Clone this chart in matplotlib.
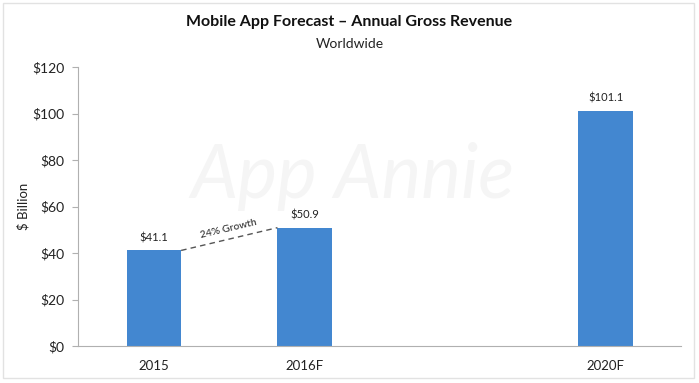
import numpy as np
import matplotlib
matplotlib.use("Agg")
import matplotlib.pyplot as plt
from matplotlib.patches import Rectangle

# ---- data ----
categories = ["2015", "2016F", "2020F"]
revenue = [41.1, 50.9, 101.1]          # $ billion
value_labels = ["$41.1", "$50.9", "$101.1"]
growth_label = "24% Growth"
yticks = [0, 20, 40, 60, 80, 100, 120]

# layout: gap between 2016F and 2020F
xpos = [0, 1, 3]
BAR_W = 0.36
BLUE = "#4387D0"
AXIS = "#b0b0b0"
TXT = "#222222"

plt.rcParams["font.family"] = ["Lato", "DejaVu Sans"]

fig = plt.figure(figsize=(6.99, 3.83), dpi=100)
fig.patches.append(Rectangle((0.005, 0.013), 0.988, 0.979, transform=fig.transFigure,
                             fill=False, edgecolor="#e2e2e2", lw=1))

ax = fig.add_axes([0.1116, 0.0966, 0.8624, 0.7284])
ax.set_xlim(-0.505, 3.5)
ax.set_ylim(0, 120)
ax.bar(xpos, revenue, width=BAR_W, color=BLUE, zorder=2)

for x, v, lab in zip(xpos, revenue, value_labels):
    ax.text(x, v + 3, lab, ha="center", va="bottom", fontsize=8, color=TXT)

# growth connector between first two bars
x0, x1 = xpos[0] + BAR_W / 2, xpos[1] - BAR_W / 2
y0, y1 = revenue[0], revenue[1]
ax.plot([x0, x1], [y0, y1], ls=(0, (4, 3)), color="#555555", lw=1, zorder=3)
p0 = ax.transData.transform((x0, y0))
p1 = ax.transData.transform((x1, y1))
ang = np.degrees(np.arctan2(p1[1] - p0[1], p1[0] - p0[0]))
ax.text((x0 + x1) / 2, (y0 + y1) / 2 + 2.5, growth_label, rotation=ang,
        rotation_mode="anchor", ha="center", va="bottom", fontsize=7.5, color=TXT)

# watermark
ax.text(1.32, 73, "App Annie", ha="center", va="center", fontsize=54,
        style="italic", color="#f5f5f5", zorder=1)

ax.set_xticks(xpos)
ax.set_xticklabels(categories, fontsize=9.5, color=TXT)
ax.set_yticks(yticks)
ax.set_yticklabels([f"${t}" for t in yticks], fontsize=10, color=TXT)
ax.tick_params(axis="x", length=0, pad=10)
ax.tick_params(axis="y", length=4, color=AXIS, pad=6)
for s in ["top", "right"]:
    ax.spines[s].set_visible(False)
for s in ["left", "bottom"]:
    ax.spines[s].set_color(AXIS)
ax.set_ylabel("$ Billion", fontsize=9.5, color=TXT, labelpad=2)

fig.text(0.5, 0.943, "Mobile App Forecast \u2013 Annual Gross Revenue",
         ha="center", va="center", fontsize=11.5, fontweight="bold", color="#111111")
fig.text(0.5, 0.885, "Worldwide", ha="center", va="center", fontsize=10, color=TXT)

fig.savefig("out.png", dpi=100)
